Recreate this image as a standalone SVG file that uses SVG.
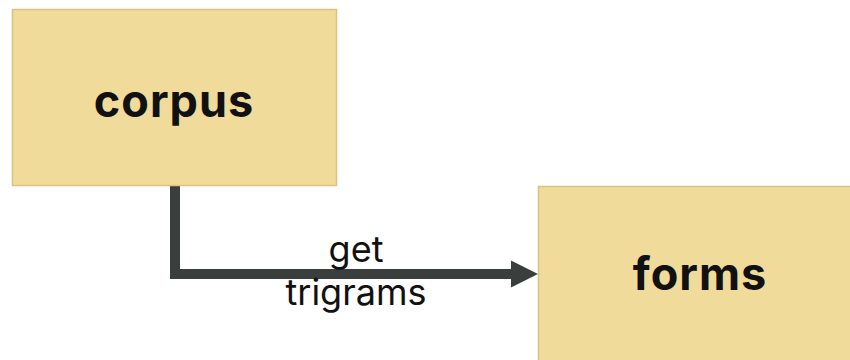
<svg xmlns="http://www.w3.org/2000/svg" width="850" height="360" viewBox="0 0 850 360">
<style>
.box{fill:#f0db9a;stroke:#dfc17f;stroke-width:1.5}
.nt{font-family:Inter,"Open Sans",sans-serif;font-weight:700;font-size:45px;fill:#111;text-anchor:middle;letter-spacing:1px}
.lt{font-family:Inter,"Open Sans",sans-serif;font-size:36px;fill:#111;text-anchor:middle}
.edge{fill:none;stroke:#3a3f3e;stroke-width:10}
</style>
<rect width="850" height="360" fill="#fff"/>
<g id="edges">
<path class="edge" d="M175,186 V274 H512"/>
<path d="M511,260.5 L538,274 L511,287.5 Z" fill="#3a3f3e"/>
<text class="lt" x="356" y="262">get</text>
<text class="lt" x="356" y="305">trigrams</text>
</g>
<g id="corpus">
<rect class="box" x="12.5" y="9.5" width="324" height="176"/>
<text class="nt" x="174" y="117">corpus</text>
</g>
<g id="forms">
<rect class="box" x="538.5" y="186.5" width="324" height="176"/>
<text class="nt" x="700" y="290">forms</text>
</g>
</svg>
